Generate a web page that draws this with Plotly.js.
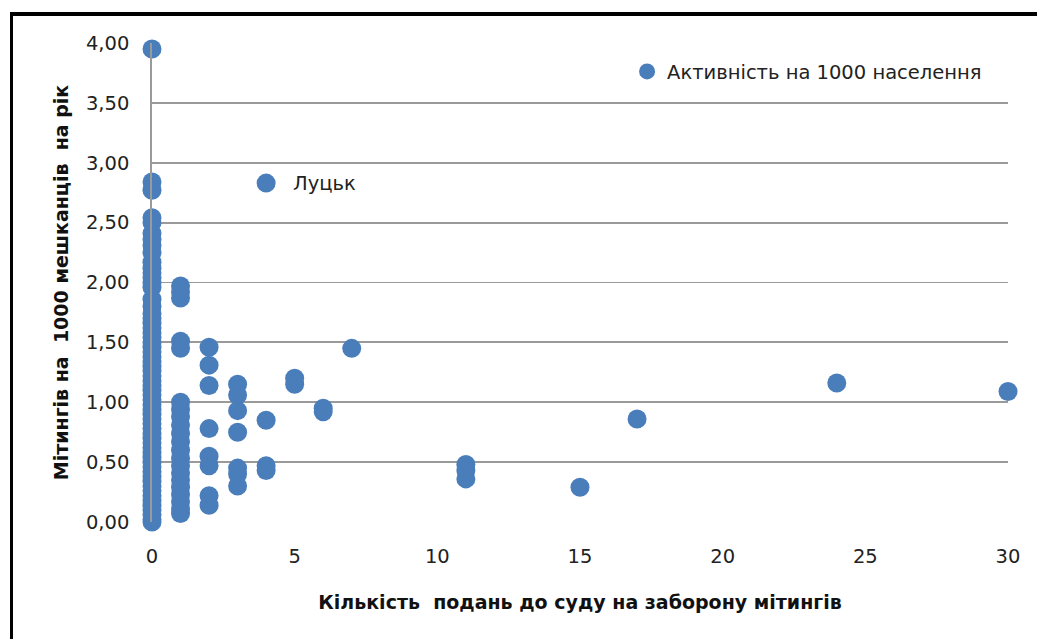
<!DOCTYPE html>
<html>
<head>
<meta charset="utf-8">
<script src="https://cdn.plot.ly/plotly-3.0.1.min.js"></script>
<style>
html,body{margin:0;padding:0;background:#fff;}
#wrap{position:relative;width:1037px;height:639px;overflow:hidden;}
#chart{width:1037px;height:639px;}
#frame{position:absolute;left:10px;top:12px;width:1100px;height:700px;border-top:4px solid #000;border-left:3px solid #000;pointer-events:none;}
</style>
</head>
<body>
<div id="wrap"><div id="chart"></div><div id="frame"></div></div>
<script>
// Number of court submissions to ban meetings (x) vs meetings per 1000 residents per year (y)
const x0Vals = [3.95, 2.84, 2.77, 2.54, 2.50, 2.41, 2.36, 2.31, 2.25, 2.17, 2.12, 2.08, 2.04, 2.00, 1.96, 1.86, 1.80, 1.74, 1.70, 1.66, 1.62, 1.58, 1.54, 1.50, 1.46, 1.42, 1.38, 1.34, 1.30, 1.26, 1.22, 1.18, 1.14, 1.10, 1.06, 1.02, 0.98, 0.94, 0.90, 0.86, 0.82, 0.78, 0.74, 0.70, 0.66, 0.62, 0.58, 0.54, 0.50, 0.46, 0.42, 0.38, 0.34, 0.30, 0.26, 0.22, 0.18, 0.14, 0.10, 0.06, 0.02, 0.00];
const x1Vals = [1.97, 1.92, 1.87, 1.51, 1.45, 1.00, 0.94, 0.88, 0.81, 0.74, 0.67, 0.60, 0.53, 0.47, 0.41, 0.35, 0.29, 0.23, 0.17, 0.11, 0.07];
const x2Vals = [1.46, 1.31, 1.14, 0.78, 0.55, 0.47, 0.22, 0.14];
const x3Vals = [1.15, 1.06, 0.93, 0.75, 0.45, 0.40, 0.30];
const x4Vals = [0.85, 0.47, 0.43];
const otherX = [5, 5, 6, 6, 7, 11, 11, 11, 15, 17, 24, 30];
const otherY = [1.20, 1.15, 0.95, 0.92, 1.45, 0.48, 0.43, 0.36, 0.29, 0.86, 1.16, 1.09];
const lutskX = 4;
const lutskY = 2.83;
const lutskLabel = 'Луцьк';
const seriesName = 'Активність на 1000 населення';
const xTitle = 'Кількість  подань до суду на заборону мітингів';
const yTitle = 'Мітингів на  1000 мешканців  на рік';
const yTickVals = [0, 0.5, 1, 1.5, 2, 2.5, 3, 3.5, 4];
const yTickText = ['0,00', '0,50', '1,00', '1,50', '2,00', '2,50', '3,00', '3,50', '4,00'];
const xTickVals = [0, 5, 10, 15, 20, 25, 30];

const xs = [], ys = [];
[[0, x0Vals], [1, x1Vals], [2, x2Vals], [3, x3Vals], [4, x4Vals]].forEach(([xv, arr]) => {
  arr.forEach(v => { xs.push(xv); ys.push(v); });
});
otherX.forEach((v, i) => { xs.push(v); ys.push(otherY[i]); });
xs.push(lutskX); ys.push(lutskY);

const blue = '#4a7ebb';
const font = 'DejaVu Sans, Verdana, sans-serif';

const trace = {
  x: xs, y: ys, type: 'scatter', mode: 'markers', name: seriesName,
  marker: {color: blue, size: 19, line: {width: 0}},
  cliponaxis: false
};

const layout = {
  width: 1037, height: 639,
  margin: {l: 152, r: 29, t: 43, b: 117},
  paper_bgcolor: '#fff', plot_bgcolor: '#fff',
  font: {family: font, size: 19, color: '#222'},
  showlegend: true,
  legend: {x: 0.555, y: 0.94, xanchor: 'left', yanchor: 'middle', bgcolor: 'rgba(255,255,255,0)',
           font: {family: font, size: 19.5, color: '#222'}, itemsizing: 'trace', itemwidth: 30},
  xaxis: {range: [0, 30], tickvals: xTickVals, ticktext: xTickVals.map(String),
          showgrid: false, zeroline: false, showline: false, ticks: '',
          ticklabelstandoff: 20, tickfont: {family: font, size: 19.5, color: '#222'},
          title: {text: xTitle, font: {family: font, size: 19, color: '#111', weight: 'bold'}, standoff: 29}},
  yaxis: {range: [0, 4], tickvals: yTickVals, ticktext: yTickText,
          showgrid: true, gridcolor: '#9a9a9a', gridwidth: 1.8, zeroline: false,
          showline: true, linecolor: '#9a9a9a', linewidth: 1.8, ticks: '',
          ticklabelstandoff: 17, tickfont: {family: font, size: 19.5, color: '#222'},
          title: {text: yTitle, font: {family: font, size: 19, color: '#111', weight: 'bold'}, standoff: 12}},
  annotations: [{x: lutskX, y: lutskY, xref: 'x', yref: 'y', text: lutskLabel, showarrow: false,
                 xanchor: 'left', yanchor: 'middle', xshift: 25, font: {family: font, size: 19.5, color: '#222'}}]
};

Plotly.newPlot('chart', [trace], layout, {displayModeBar: false, staticPlot: true});
</script>
</body>
</html>
